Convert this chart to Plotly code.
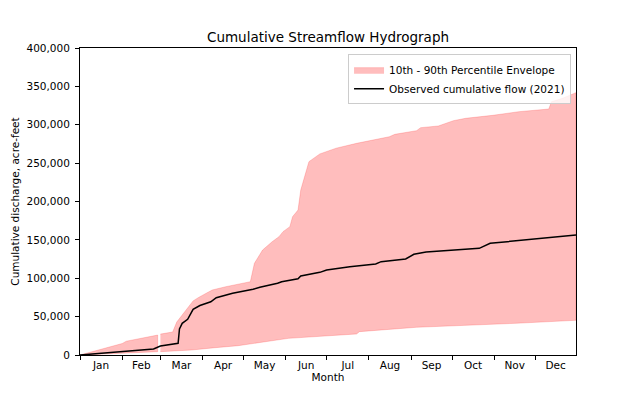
import plotly.graph_objects as go

# ---- Data ----
# 10th-90th percentile envelope, split in two segments (gap at end of February)
upper_dates_1 = ["2021-01-01", "2021-02-01", "2021-02-04", "2021-02-27"]
upper_vals_1 = [0, 15000, 18000, 26000]
lower_dates_1 = ["2021-01-01", "2021-02-27"]
lower_vals_1 = [0, 4300]

upper_dates_2 = ["2021-03-01", "2021-03-10", "2021-03-13", "2021-03-17", "2021-03-22",
                 "2021-03-25", "2021-03-29", "2021-04-08", "2021-04-18", "2021-05-06",
                 "2021-05-09", "2021-05-15", "2021-05-22", "2021-05-27", "2021-05-30",
                 "2021-06-04", "2021-06-06", "2021-06-10", "2021-06-12", "2021-06-15",
                 "2021-06-18", "2021-06-26", "2021-07-08", "2021-07-23", "2021-08-04",
                 "2021-08-16", "2021-08-20", "2021-09-05", "2021-09-08", "2021-09-21",
                 "2021-10-02", "2021-10-11", "2021-10-31", "2021-11-19", "2021-12-11",
                 "2021-12-13", "2021-12-21", "2021-12-31"]
upper_vals_2 = [27200, 30000, 43000, 52500, 63000,
                70500, 75000, 84700, 89000, 95500,
                119500, 136800, 147600, 154100, 160700,
                167200, 180200, 188900, 215000, 232300,
                251900, 262000, 269500, 275800, 280100,
                284400, 287500, 292300, 296200, 298400,
                305300, 308400, 312300, 317000, 320500,
                330000, 334400, 341800]
lower_dates_2 = ["2021-03-01", "2021-03-24", "2021-04-10", "2021-04-27", "2021-05-12",
                 "2021-06-03", "2021-07-02", "2021-07-23", "2021-07-25", "2021-09-05",
                 "2021-11-17", "2021-12-31"]
lower_vals_2 = [4300, 6500, 9500, 12100, 16000,
                21700, 25200, 27400, 30400, 36100,
                41300, 45200]

# Observed cumulative flow (2021)
obs_dates = ["2021-01-01", "2021-02-24", "2021-03-01", "2021-03-14", "2021-03-15",
             "2021-03-17", "2021-03-21", "2021-03-25", "2021-03-30", "2021-04-07",
             "2021-04-11", "2021-04-23", "2021-05-08", "2021-05-13", "2021-05-26",
             "2021-05-29", "2021-06-10", "2021-06-12", "2021-06-26", "2021-07-01",
             "2021-07-18", "2021-08-06", "2021-08-10", "2021-08-28", "2021-09-03",
             "2021-09-12", "2021-10-21", "2021-10-24", "2021-10-29", "2021-12-31"]
obs_vals = [0, 7800, 11700, 15200, 34000,
            41300, 46500, 59500, 64500, 69400,
            74700, 80400, 85600, 88200, 93400,
            95500, 99400, 102900, 107700, 110700,
            115000, 118600, 121600, 125100, 131200,
            134200, 139000, 141100, 145500, 156300]

FONT = "DejaVu Sans"

# Build envelope polygon (two closed segments separated by a gap)
env_x = (upper_dates_1 + lower_dates_1[::-1] + [None]
         + upper_dates_2 + lower_dates_2[::-1])
env_y = (upper_vals_1 + lower_vals_1[::-1] + [None]
         + upper_vals_2 + lower_vals_2[::-1])

fig = go.Figure()
fig.add_trace(go.Scatter(
    x=env_x, y=env_y, mode="lines", fill="toself",
    fillcolor="rgba(255,0,0,0.26)",
    line=dict(color="rgba(255,0,0,0.18)", width=1),
    name="10th - 90th Percentile Envelope",
    connectgaps=False, hoverinfo="skip",
))
fig.add_trace(go.Scatter(
    x=obs_dates, y=obs_vals, mode="lines",
    line=dict(color="black", width=1.5),
    name="Observed cumulative flow (2021)",
))

# The page places the figure 8px in from the top-left, so margins are reduced by 8.
fig.update_layout(
    width=640, height=400,
    margin=dict(l=72, r=72, t=40, b=53),
    paper_bgcolor="white", plot_bgcolor="white",
    font=dict(family=FONT, size=10.5, color="black"),
    title=dict(text="Cumulative Streamflow Hydrograph",
               x=0.5, xref="paper", xanchor="center",
               y=1 - 29 / 400, yref="container", yanchor="middle",
               font=dict(size=13.5, family=FONT, color="black")),
    legend=dict(x=0.99, y=0.98, xanchor="right", yanchor="top",
                bgcolor="rgba(255,255,255,0.8)", bordercolor="#cccccc",
                borderwidth=1, font=dict(size=10.5, family=FONT),
                itemwidth=30, tracegroupgap=0),
    showlegend=True,
)
fig.update_xaxes(
    type="date", range=["2021-01-01", "2021-12-31"],
    dtick="M1", tick0="2021-01-01", tickformat="%b", ticklabelmode="period",
    ticks="outside", ticklen=4, tickcolor="black", ticklabelstandoff=-4,
    showline=True, linecolor="black", linewidth=1, mirror=True,
    showgrid=False, zeroline=False, automargin=False,
    title=dict(text="Month", standoff=2, font=dict(size=10.5, family=FONT)),
)
fig.update_yaxes(
    range=[0, 400000], dtick=50000, tickformat=",",
    ticks="outside", ticklen=4, tickcolor="black", ticklabelstandoff=3,
    showline=True, linecolor="black", linewidth=1, mirror=True,
    showgrid=False, zeroline=False, automargin=False,
    title=dict(text="Cumulative discharge, acre-feet", standoff=4,
               font=dict(size=10.5, family=FONT)),
)

fig.write_html("out.html")
